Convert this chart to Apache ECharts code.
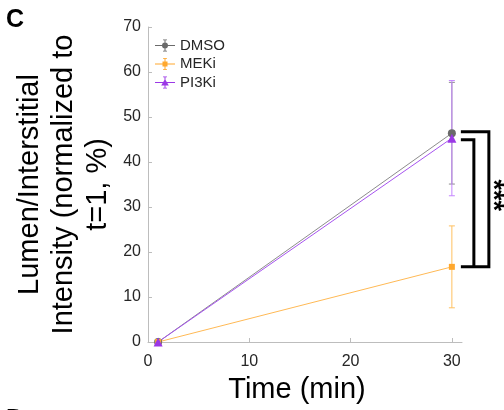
<!DOCTYPE html>
<html>
<head>
<meta charset="utf-8">
<script src="https://cdn.jsdelivr.net/npm/echarts@6/dist/echarts.min.js"></script>
<style>
  html, body { margin: 0; padding: 0; background: #fff; }
  #chart { width: 504px; height: 410px; }
</style>
</head>
<body>
<div id="chart"></div>
<script>
// Time points (min)
const times = [1, 30];

// Mean lumen/interstitial intensity (% of t=1) and error per condition
const dmsoMean = [0, 46.4];
const dmsoErr  = [0, 11.3];
const mekiMean = [0, 16.7];
const mekiErr  = [0, 9.1];
const pi3kMean = [0, 45.3];
const pi3kErr  = [0, 12.8];

const seriesNames = ['DMSO', 'MEKi', 'PI3Ki'];
const xTicks = [0, 10, 20, 30];
const yTicks = [0, 10, 20, 30, 40, 50, 60, 70];
const significance = '***';

const FONT = '"Liberation Sans", Arial, Helvetica, sans-serif';
const AXIS_GREY = '#bdbdbd';
const TEXT_DARK = '#262626';

const styles = {
  DMSO:  { marker: '#6a6a6a', line: '#8c8c8c', err: '#8c8c8c', symbol: 'circle',   size: 8 },
  MEKi:  { marker: '#ffa82e', line: '#ffb955', err: '#ffc060', symbol: 'rect',     size: 6 },
  PI3Ki: { marker: '#9b38e6', line: '#a653ef', err: '#c485ff', symbol: 'triangle', size: 9 }
};

// Legend glyphs: horizontal line, vertical error bar with caps and a marker
const iconBase = 'M0 5.5h20v1H0z M9.5 0h1v12h-1z M8 0h4v0.8H8z M8 11.2h4v0.8H8z ';
const icons = {
  DMSO:  'path://' + iconBase + 'M7 6a3 3 0 1 1 6 0a3 3 0 1 1 -6 0z',
  MEKi:  'path://' + iconBase + 'M7.5 3.5h5v5h-5z',
  PI3Ki: 'path://' + iconBase + 'M10 2.5L13.8 9H6.2z'
};

function lineData(mean) {
  return times.map((t, i) => [t, mean[i]]);
}
function errData(mean, err) {
  return times.map((t, i) => [t, mean[i] - err[i], mean[i] + err[i]])
              .filter((d, i) => err[i] > 0);
}

function errorBarSeries(name, mean, err, color) {
  return {
    type: 'custom',
    name: name + ' error',
    data: errData(mean, err),
    encode: { x: 0, y: [1, 2] },
    clip: false,
    z: 2,
    silent: true,
    renderItem: function (params, api) {
      const x = api.value(0);
      const lo = api.coord([x, api.value(1)]);
      const hi = api.coord([x, api.value(2)]);
      const cap = 3;
      const style = { stroke: color, lineWidth: 1, fill: null };
      return {
        type: 'group',
        children: [
          { type: 'line', shape: { x1: lo[0], y1: lo[1], x2: hi[0], y2: hi[1] }, style: style },
          { type: 'line', shape: { x1: hi[0] - cap, y1: hi[1], x2: hi[0] + cap, y2: hi[1] }, style: style },
          { type: 'line', shape: { x1: lo[0] - cap, y1: lo[1], x2: lo[0] + cap, y2: lo[1] }, style: style }
        ]
      };
    }
  };
}

function lineSeries(name, mean) {
  const s = styles[name];
  return {
    type: 'line',
    name: name,
    data: lineData(mean),
    symbol: s.symbol,
    symbolSize: s.size,
    showAllSymbol: true,
    z: 3,
    itemStyle: { color: s.marker },
    lineStyle: { color: s.line, width: 1 },
    emphasis: { disabled: true },
    animation: false
  };
}

const chart = echarts.init(document.getElementById('chart'), null, { renderer: 'canvas' });

chart.setOption({
  animation: false,
  backgroundColor: '#ffffff',
  textStyle: { fontFamily: FONT },
  grid: { left: 148, right: 42, top: 27, bottom: 68, containLabel: false },
  legend: {
    data: seriesNames.map(n => ({ name: n, icon: icons[n] })),
    orient: 'vertical',
    left: 150,
    top: 33,
    itemWidth: 20,
    itemHeight: 12,
    itemGap: 3.5,
    selectedMode: false,
    textStyle: { fontFamily: FONT, fontSize: 15, color: TEXT_DARK }
  },
  xAxis: {
    type: 'value',
    min: 0,
    max: 31,
    interval: 10,
    name: 'Time (min)',
    nameLocation: 'middle',
    nameGap: 33,
    nameMoveOverlap: false,
    nameTextStyle: { fontFamily: FONT, fontSize: 29, color: '#000', padding: [0, 16, 0, 0] },
    axisLine: { show: true, lineStyle: { color: AXIS_GREY, width: 1 } },
    axisTick: { show: true, inside: true, length: 4, customValues: xTicks, lineStyle: { color: AXIS_GREY } },
    axisLabel: { customValues: xTicks, margin: 12, fontFamily: FONT, fontSize: 16, color: TEXT_DARK },
    splitLine: { show: false }
  },
  yAxis: {
    type: 'value',
    min: 0,
    max: 70,
    interval: 10,
    name: 'Lumen/Interstitial\nIntensity (normalized to\nt=1, %)',
    nameLocation: 'middle',
    nameRotate: 90,
    nameGap: 33,
    nameMoveOverlap: false,
    nameTextStyle: { fontFamily: FONT, fontSize: 29, color: '#000', lineHeight: 34 },
    axisLine: { show: true, lineStyle: { color: AXIS_GREY, width: 1 } },
    axisTick: { show: true, inside: true, length: 4, customValues: yTicks, lineStyle: { color: AXIS_GREY } },
    axisLabel: { customValues: yTicks, margin: 7, fontFamily: FONT, fontSize: 16, color: TEXT_DARK },
    splitLine: { show: false }
  },
  series: [
    errorBarSeries('DMSO', dmsoMean, dmsoErr, styles.DMSO.err),
    lineSeries('DMSO', dmsoMean),
    errorBarSeries('MEKi', mekiMean, mekiErr, styles.MEKi.err),
    lineSeries('MEKi', mekiMean),
    errorBarSeries('PI3Ki', pi3kMean, pi3kErr, styles.PI3Ki.err),
    lineSeries('PI3Ki', pi3kMean)
  ]
});

// Significance brackets between the t=30 groups, placed from the axis scales
const last = times.length - 1;
const pD = chart.convertToPixel({ gridIndex: 0 }, [times[last], dmsoMean[last]]);
const pM = chart.convertToPixel({ gridIndex: 0 }, [times[last], mekiMean[last]]);
const pP = chart.convertToPixel({ gridIndex: 0 }, [times[last], pi3kMean[last]]);
const x0 = pD[0] + 9;
const xInner = pD[0] + 22;
const xOuter = pD[0] + 37;
const yTop = pD[1] - 1.5;
const yInnerTop = pP[1] + 1.5;
const yBottom = pM[1];

chart.setOption({
  graphic: [
    {
      type: 'polyline',
      shape: { points: [[x0, yTop], [xOuter, yTop], [xOuter, yBottom], [x0, yBottom]] },
      style: { stroke: '#000', lineWidth: 3, fill: null },
      z: 10
    },
    {
      type: 'polyline',
      shape: { points: [[x0, yInnerTop], [xInner, yInnerTop], [xInner, yBottom]] },
      style: { stroke: '#000', lineWidth: 3, fill: null },
      z: 10
    },
    {
      type: 'text',
      x: xOuter + 17,
      y: (yTop + yBottom) / 2 - 4,
      rotation: -Math.PI / 2,
      style: {
        text: significance,
        font: 'bold 27px ' + FONT,
        fill: '#000',
        align: 'center',
        verticalAlign: 'top'
      },
      z: 10
    },
    {
      type: 'text',
      x: 6,
      y: 8,
      style: { text: 'C', font: 'bold 25px ' + FONT, fill: '#000', align: 'left', verticalAlign: 'top' }
    },
    {
      type: 'text',
      x: 6,
      y: 408,
      style: { text: 'D', font: 'bold 25px ' + FONT, fill: '#000', align: 'left', verticalAlign: 'top' }
    }
  ]
});
</script>
</body>
</html>
